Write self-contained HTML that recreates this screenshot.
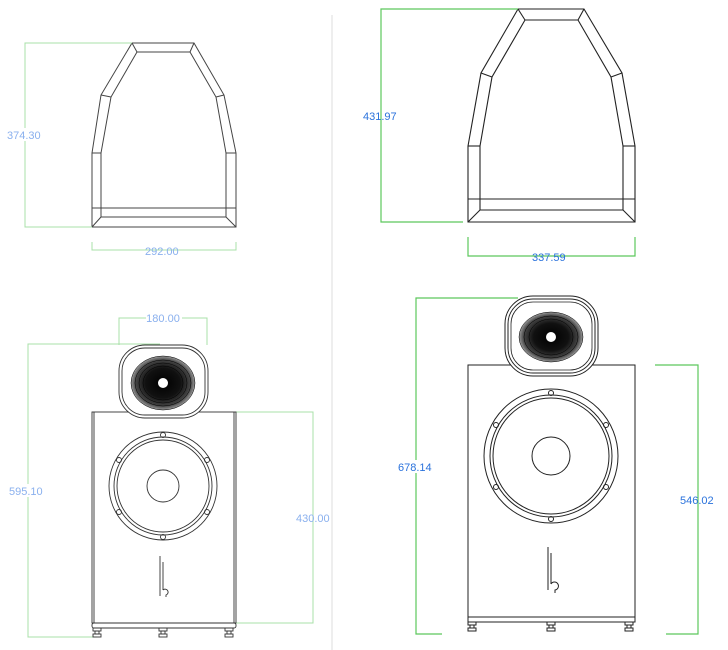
<!DOCTYPE html>
<html><head><meta charset="utf-8"><style>
html,body{margin:0;padding:0;background:#fff;}
svg{display:block;}
text{font-family:"Liberation Sans",sans-serif;font-size:11px;}
</style></head><body>
<svg width="728" height="650" viewBox="0 0 728 650" xmlns="http://www.w3.org/2000/svg">
<defs>
<radialGradient id="hg" cx="50%" cy="50%" r="50%">
<stop offset="0" stop-color="#000"/><stop offset="0.55" stop-color="#111"/><stop offset="0.85" stop-color="#444"/><stop offset="1" stop-color="#999"/>
</radialGradient>
<g id="ft"><rect x="-4" y="628" width="8" height="3"/><rect x="-2" y="631" width="4" height="3"/><rect x="-4" y="634" width="8" height="3"/></g>
</defs>
<line x1="332" y1="15" x2="332" y2="650" stroke="#ddd" stroke-width="1"/>

<g fill="none" stroke="#444" stroke-width="1">
<polygon points="92,227 92,153 101,95 132,43 194,43 224,95 236,153 236,227"/>
<polyline points="101,217 101,153 111,97 137,52 190,52 216,97 226,153 226,217 101,217"/>
<line x1="92" y1="208" x2="236" y2="208"/>
<line x1="92" y1="227" x2="101" y2="217"/><line x1="236" y1="227" x2="226" y2="217"/>
<line x1="92" y1="153" x2="101" y2="153"/><line x1="226" y1="153" x2="236" y2="153"/>
<line x1="101" y1="95" x2="111" y2="97"/><line x1="216" y1="97" x2="224" y2="95"/>
<line x1="132" y1="43" x2="137" y2="52"/><line x1="190" y1="52" x2="194" y2="43"/>
</g>
<g fill="none" stroke="#a8e0a8" stroke-width="1">
<polyline points="132,43 25,43 25,227 92,227"/>
<polyline points="92,242 92,250 236,250 236,242"/>
</g>
<rect x="6" y="128" width="40" height="13" fill="#fff"/>
<text x="7" y="139" fill="#8ab0ee">374.30</text>
<text x="145" y="255" fill="#8ab0ee">292.00</text>

<g fill="none" stroke="#222" stroke-width="1.1">
<polygon points="468,222 468,146 481,73 518,9 584,9 622,73 635,146 635,222"/>
<polyline points="480,210 480,146 492,77 525,20 578,20 611,77 623,146 623,210 480,210"/>
<line x1="468" y1="199" x2="635" y2="199"/>
<line x1="468" y1="222" x2="480" y2="210"/><line x1="635" y1="222" x2="623" y2="210"/>
<line x1="468" y1="146" x2="480" y2="146"/><line x1="623" y1="146" x2="635" y2="146"/>
<line x1="481" y1="73" x2="492" y2="77"/><line x1="611" y1="77" x2="622" y2="73"/>
<line x1="518" y1="9" x2="525" y2="20"/><line x1="578" y1="20" x2="584" y2="9"/>
</g>
<g fill="none" stroke="#5cc85c" stroke-width="1.2">
<polyline points="518,9 381,9 381,222 463,222"/>
<polyline points="468,237 468,256 635,256 635,237"/>
</g>
<text x="363" y="120" fill="#2a72dc">431.97</text>
<text x="532" y="261" fill="#2a72dc">337.59</text>

<g fill="none" stroke="#a8e0a8" stroke-width="1">
<polyline points="119,345 119,318 207,318 207,345"/>
<polyline points="160,344 28,344 28,637 97,637"/>
<polyline points="236,412 313,412 313,623 236,623"/>
</g>
<g fill="none" stroke="#333" stroke-width="0.9">
<rect x="92" y="412" width="144" height="211"/>
<line x1="94" y1="412" x2="94" y2="623"/><line x1="234" y1="412" x2="234" y2="623"/>
<rect x="92" y="623" width="144" height="5" rx="2"/>
</g>
<rect x="119" y="345" width="89" height="73" rx="26" fill="#fff" stroke="#333" stroke-width="0.9"/>
<rect x="122" y="348" width="83" height="67" rx="23" fill="none" stroke="#333" stroke-width="0.9"/>
<ellipse cx="163" cy="383" rx="32" ry="27" fill="url(#hg)"/>
<g fill="none" stroke="#000" stroke-width="0.5">
<ellipse cx="163" cy="383" rx="32" ry="27"/><ellipse cx="163" cy="383" rx="28" ry="23"/><ellipse cx="163" cy="383" rx="24" ry="20"/><ellipse cx="163" cy="383" rx="20" ry="17"/>
</g>
<circle cx="163" cy="383" r="5" fill="#fff"/>
<g fill="none" stroke="#333" stroke-width="0.9">
<circle cx="163" cy="486" r="54"/><circle cx="163" cy="486" r="49"/><circle cx="163" cy="486" r="46"/><circle cx="163" cy="486" r="16"/>
<circle cx="163" cy="435" r="2.5"/><circle cx="163" cy="537" r="2.5"/>
<circle cx="119" cy="460" r="2.5"/><circle cx="207" cy="460" r="2.5"/>
<circle cx="119" cy="512" r="2.5"/><circle cx="207" cy="512" r="2.5"/>
<line x1="160" y1="556" x2="160" y2="596"/><line x1="163" y1="562" x2="163" y2="590"/>
<path d="M163,590 a3,3 0 1 1 3,5 v2"/>
<use href="#ft" x="97"/><use href="#ft" x="163"/><use href="#ft" x="229"/>
</g>
<rect x="146" y="312" width="36" height="12" fill="#fff"/>
<text x="163" y="322" fill="#8ab0ee" text-anchor="middle">180.00</text>
<rect x="8" y="484" width="38" height="13" fill="#fff"/>
<text x="9" y="495" fill="#8ab0ee">595.10</text>
<text x="296" y="522" fill="#8ab0ee">430.00</text>

<g fill="none" stroke="#5cc85c" stroke-width="1.2">
<polyline points="518,298 416,298 416,634 442,634"/>
<polyline points="655,365 698,365 698,634 666,634"/>
</g>
<g fill="none" stroke="#222" stroke-width="1">
<rect x="468" y="365" width="167" height="252"/>
<rect x="468" y="617" width="167" height="5"/>
</g>
<rect x="505" y="296" width="93" height="80" rx="28" fill="#fff" stroke="#222" stroke-width="1"/>
<rect x="508" y="299" width="87" height="74" rx="25" fill="none" stroke="#222" stroke-width="1"/>
<rect x="511" y="302" width="81" height="68" rx="22" fill="none" stroke="#222" stroke-width="0.8"/>
<ellipse cx="551" cy="337" rx="32" ry="25" fill="url(#hg)"/>
<g fill="none" stroke="#000" stroke-width="0.5">
<ellipse cx="551" cy="337" rx="32" ry="25"/><ellipse cx="551" cy="337" rx="27" ry="21"/><ellipse cx="551" cy="337" rx="22" ry="18"/>
</g>
<circle cx="551" cy="337" r="5" fill="#fff"/>
<g fill="none" stroke="#222" stroke-width="1">
<circle cx="551" cy="456" r="67"/><circle cx="551" cy="456" r="61"/><circle cx="551" cy="456" r="58"/><circle cx="551" cy="456" r="19"/>
<circle cx="551" cy="393" r="2.5"/><circle cx="551" cy="519" r="2.5"/>
<circle cx="496" cy="425" r="2.5"/><circle cx="606" cy="425" r="2.5"/>
<circle cx="496" cy="487" r="2.5"/><circle cx="606" cy="487" r="2.5"/>
<line x1="548" y1="547" x2="548" y2="590"/><line x1="551" y1="553" x2="551" y2="584"/>
<path d="M551,584 a4,4 0 1 1 4,6 v3"/>
<use href="#ft" x="472" y="-6"/><use href="#ft" x="551" y="-6"/><use href="#ft" x="629" y="-6"/>
</g>
<rect x="397" y="460" width="40" height="13" fill="#fff"/>
<text x="398" y="471" fill="#2a72dc">678.14</text>
<text x="680" y="504" fill="#2a72dc">546.02</text>
</svg>
</body></html>
